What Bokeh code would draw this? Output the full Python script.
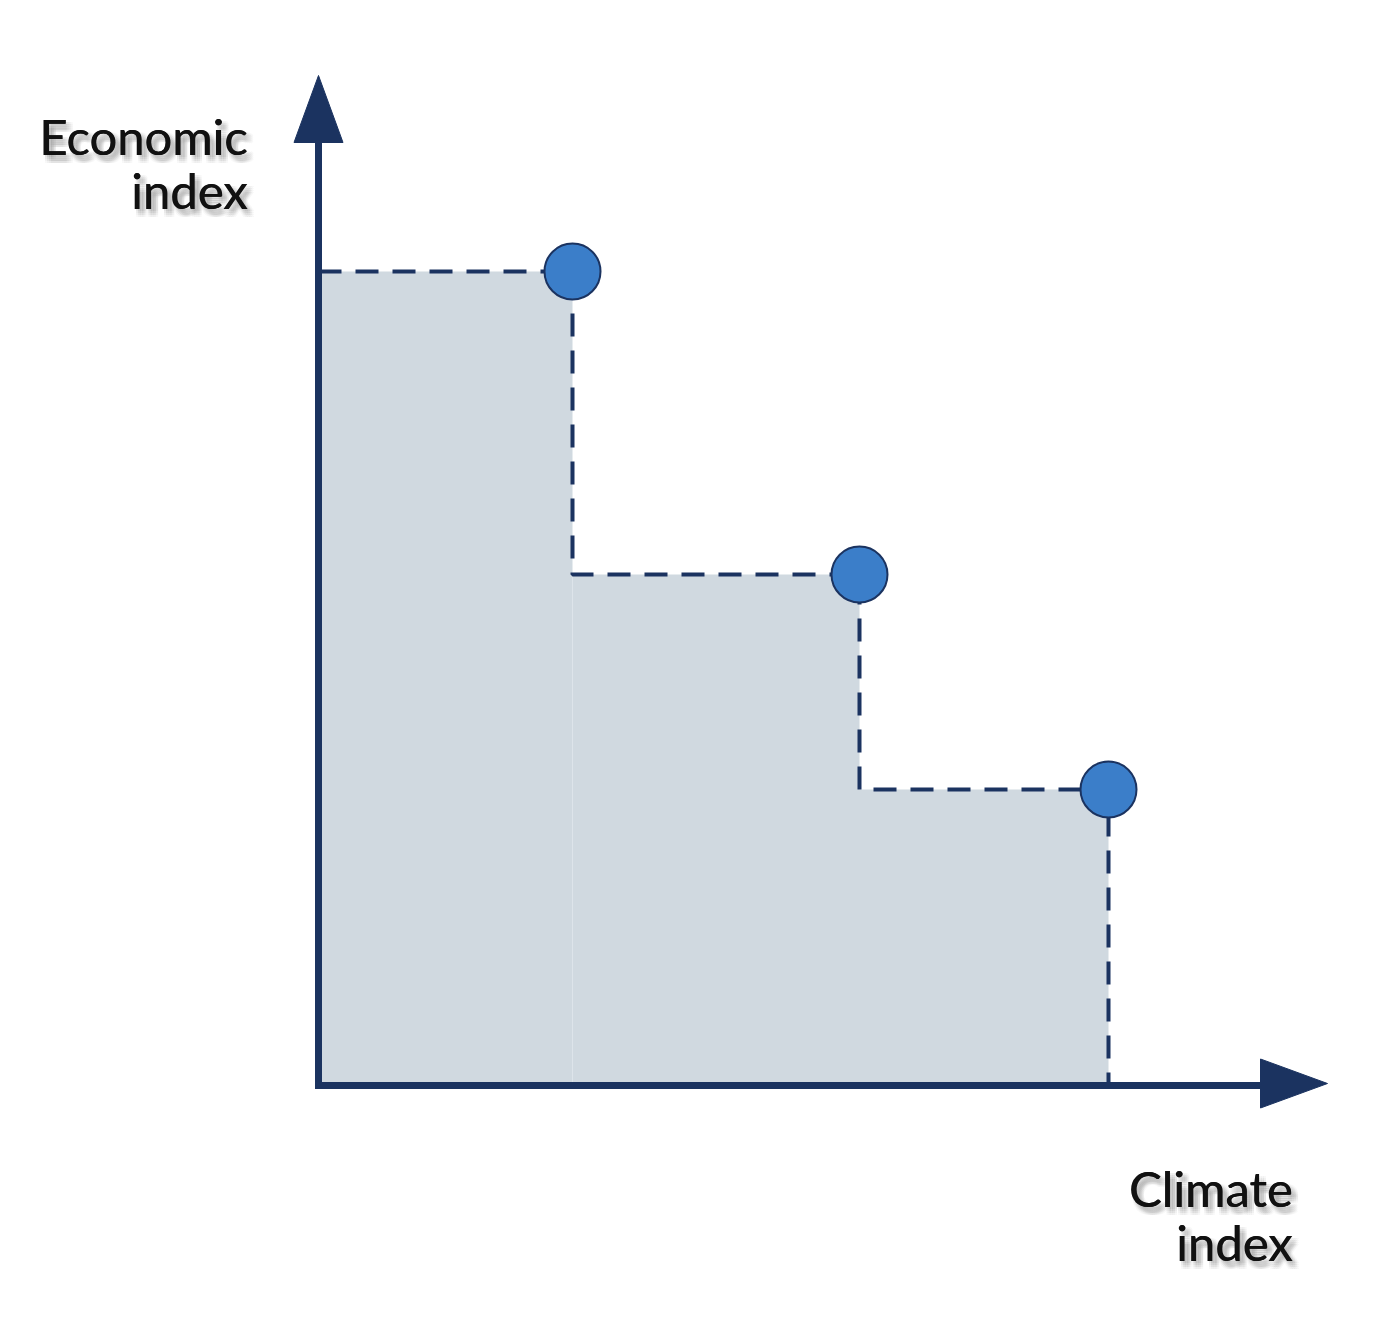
from bokeh.plotting import figure
from bokeh.embed import file_html
from bokeh.resources import INLINE
from bokeh.core.properties import value

# data (1 unit = 100 px)
climate_index = [2.54, 5.41, 7.90]
economic_index = [8.14, 5.11, 2.96]
x_label_lines = ["Climate", "index"]
y_label_lines = ["Economic", "index"]

NAVY = "#1b3360"
FILL = "#d0d9e0"
DOT = "#3b7ec9"
FONT = value("Lato")

p = figure(width=1379, height=1320, output_backend="svg", toolbar_location=None,
           x_range=(-3.18, 10.61), y_range=(-2.35, 10.85),
           x_axis_type=None, y_axis_type=None, min_border=0,
           outline_line_color=None, background_fill_color="white")
p.grid.visible = False

# dashed step outline path
sx, sy = [0.0], [economic_index[0]]
for i, (cx, ey) in enumerate(zip(climate_index, economic_index)):
    sx += [cx, cx]
    nxt = economic_index[i + 1] if i + 1 < len(economic_index) else 0.0
    sy += [ey, nxt]

# shaded step region
p.patch([0.0] + sx, [0.0] + sy, fill_color=FILL, line_color=None)
# faint seam under first step
p.segment(x0=[climate_index[0]], y0=[0.0], x1=[climate_index[0]], y1=[economic_index[1]],
          line_color="#dde4ea", line_width=1)

p.line(sx, sy, line_color=NAVY, line_width=4, line_dash="23 14")

# axes with arrow heads
x_tip, y_tip = 10.09, 10.10
head_len, head_half = 0.67, 0.245
p.line([0, 0, x_tip - head_len + 0.02], [y_tip - head_len + 0.02, 0, 0],
       line_color=NAVY, line_width=7, line_join="miter")
p.patch([-head_half, head_half, 0], [y_tip - head_len, y_tip - head_len, y_tip],
        fill_color=NAVY, line_color=NAVY, line_width=1)
p.patch([x_tip - head_len, x_tip - head_len, x_tip], [-head_half + 0.02, head_half + 0.02, 0.02],
        fill_color=NAVY, line_color=NAVY, line_width=1)

# points
p.scatter(climate_index, economic_index, size=56, fill_color=DOT, line_color=NAVY, line_width=2)

# labels with soft shadow
def label(lines, x_right, y_base, step):
    ys = [y_base - i * step for i in range(len(lines))]
    xs = [x_right] * len(lines)
    for dx in (0.015, 0.035, 0.055, 0.075):
        for dy in (0.02, 0.04, 0.06, 0.08):
            p.text([x + dx for x in xs], [y - dy for y in ys], text=lines,
                   text_font=FONT, text_font_size="49px", text_align="right",
                   text_baseline="alphabetic", text_color="#444444", text_alpha=0.04)
    for off in (0.0, 0.006):
        p.text([x + off for x in xs], ys, text=lines, text_font=FONT, text_font_size="49px",
               text_align="right", text_baseline="alphabetic", text_color="#111111")

label(y_label_lines, (247 - 318) / 100, (1085 - 135) / 100, 0.545)
label(x_label_lines, (1292 - 318) / 100, (1085 - 1187) / 100, 0.545)

open("out.html", "w").write(file_html(p, INLINE))
